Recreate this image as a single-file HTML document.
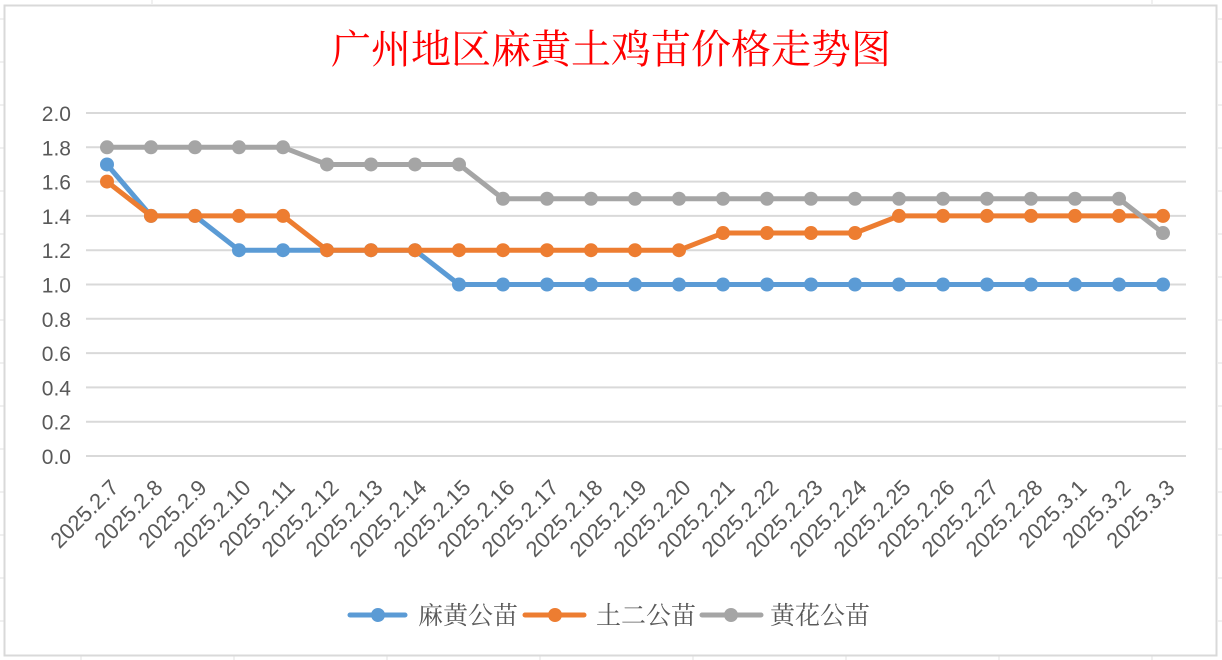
<!DOCTYPE html>
<html><head><meta charset="utf-8"><style>
html,body{margin:0;padding:0;background:#fff;}
svg{display:block;}
</style></head><body>
<svg width="1222" height="660" xmlns="http://www.w3.org/2000/svg">
<rect width="1222" height="660" fill="#fff"/>
<g stroke="#e2e2e2" stroke-width="1">
<line x1="0" y1="19" x2="4" y2="19"/><line x1="0" y1="62" x2="4" y2="62"/><line x1="0" y1="105" x2="4" y2="105"/><line x1="0" y1="148" x2="4" y2="148"/><line x1="0" y1="191" x2="4" y2="191"/><line x1="0" y1="234" x2="4" y2="234"/><line x1="0" y1="277" x2="4" y2="277"/><line x1="0" y1="320" x2="4" y2="320"/><line x1="0" y1="363" x2="4" y2="363"/><line x1="0" y1="406" x2="4" y2="406"/><line x1="0" y1="449" x2="4" y2="449"/><line x1="0" y1="492" x2="4" y2="492"/><line x1="0" y1="535" x2="4" y2="535"/><line x1="0" y1="578" x2="4" y2="578"/><line x1="0" y1="621" x2="4" y2="621"/>
<line x1="1218" y1="19" x2="1222" y2="19"/><line x1="1218" y1="62" x2="1222" y2="62"/><line x1="1218" y1="105" x2="1222" y2="105"/><line x1="1218" y1="148" x2="1222" y2="148"/><line x1="1218" y1="191" x2="1222" y2="191"/><line x1="1218" y1="234" x2="1222" y2="234"/><line x1="1218" y1="277" x2="1222" y2="277"/><line x1="1218" y1="320" x2="1222" y2="320"/><line x1="1218" y1="363" x2="1222" y2="363"/><line x1="1218" y1="406" x2="1222" y2="406"/><line x1="1218" y1="449" x2="1222" y2="449"/><line x1="1218" y1="492" x2="1222" y2="492"/><line x1="1218" y1="535" x2="1222" y2="535"/><line x1="1218" y1="578" x2="1222" y2="578"/><line x1="1218" y1="621" x2="1222" y2="621"/>
<line x1="81" y1="656" x2="81" y2="660"/><line x1="234" y1="656" x2="234" y2="660"/><line x1="387" y1="656" x2="387" y2="660"/><line x1="540" y1="656" x2="540" y2="660"/><line x1="693" y1="656" x2="693" y2="660"/><line x1="846" y1="656" x2="846" y2="660"/><line x1="999" y1="656" x2="999" y2="660"/><line x1="1152" y1="656" x2="1152" y2="660"/>
<line x1="152" y1="0" x2="152" y2="4"/><line x1="1152" y1="0" x2="1152" y2="4"/>
</g>
<rect x="4.5" y="5.5" width="1212" height="650" fill="#fff" stroke="#d9d9d9" stroke-width="2"/>
<text x="611" y="63" text-anchor="middle" font-family="Noto Serif CJK SC, serif" font-size="40" fill="#ff0000">广州地区麻黄土鸡苗价格走势图</text>
<g stroke="#d9d9d9" stroke-width="2">
<line x1="86" y1="113" x2="1186" y2="113"/><line x1="86" y1="147.3" x2="1186" y2="147.3"/><line x1="86" y1="181.6" x2="1186" y2="181.6"/><line x1="86" y1="215.9" x2="1186" y2="215.9"/><line x1="86" y1="250.2" x2="1186" y2="250.2"/><line x1="86" y1="284.5" x2="1186" y2="284.5"/><line x1="86" y1="318.8" x2="1186" y2="318.8"/><line x1="86" y1="353.1" x2="1186" y2="353.1"/><line x1="86" y1="387.4" x2="1186" y2="387.4"/><line x1="86" y1="421.7" x2="1186" y2="421.7"/><line x1="86" y1="456" x2="1186" y2="456"/>
</g>
<g font-family="Liberation Sans, sans-serif" font-size="21" fill="#595959" text-anchor="end">
<text x="71" y="121">2.0</text><text x="71" y="155.3">1.8</text><text x="71" y="189.6">1.6</text><text x="71" y="223.9">1.4</text><text x="71" y="258.2">1.2</text><text x="71" y="292.5">1.0</text><text x="71" y="326.8">0.8</text><text x="71" y="361.1">0.6</text><text x="71" y="395.4">0.4</text><text x="71" y="429.7">0.2</text><text x="71" y="464">0.0</text>
</g>
<g id="xl" font-family="Liberation Sans, sans-serif" font-size="22" fill="#595959" text-anchor="end"></g>
<g id="series"></g>
<g font-family="Noto Serif CJK SC, serif" font-size="25" fill="#595959">
<line x1="350" y1="615" x2="405" y2="615" stroke="#5b9bd5" stroke-width="5" stroke-linecap="round"/><circle cx="378" cy="615" r="7" fill="#5b9bd5"/>
<text x="418" y="624">麻黄公苗</text>
<line x1="525" y1="615" x2="584" y2="615" stroke="#ed7d31" stroke-width="5" stroke-linecap="round"/><circle cx="555" cy="615" r="7" fill="#ed7d31"/>
<text x="596" y="624">土二公苗</text>
<line x1="702" y1="615" x2="761" y2="615" stroke="#a5a5a5" stroke-width="5" stroke-linecap="round"/><circle cx="731" cy="615" r="7" fill="#a5a5a5"/>
<text x="770" y="624">黄花公苗</text>
</g>
<script>
var labels=["2025.2.7","2025.2.8","2025.2.9","2025.2.10","2025.2.11","2025.2.12","2025.2.13","2025.2.14","2025.2.15","2025.2.16","2025.2.17","2025.2.18","2025.2.19","2025.2.20","2025.2.21","2025.2.22","2025.2.23","2025.2.24","2025.2.25","2025.2.26","2025.2.27","2025.2.28","2025.3.1","2025.3.2","2025.3.3"];
var ns="http://www.w3.org/2000/svg";
function X(i){return 107+44*i;}
function Y(v){return 456-v*171.5;}
var xl=document.getElementById("xl");
labels.forEach(function(l,i){var t=document.createElementNS(ns,"text");var x=X(i)+13,y=489;t.setAttribute("x",x);t.setAttribute("y",y);t.setAttribute("transform","rotate(-45 "+x+" "+y+")");t.textContent=l;xl.appendChild(t);});
var s=[
["#5b9bd5",[1.7,1.4,1.4,1.2,1.2,1.2,1.2,1.2,1.0,1.0,1.0,1.0,1.0,1.0,1.0,1.0,1.0,1.0,1.0,1.0,1.0,1.0,1.0,1.0,1.0]],
["#ed7d31",[1.6,1.4,1.4,1.4,1.4,1.2,1.2,1.2,1.2,1.2,1.2,1.2,1.2,1.2,1.3,1.3,1.3,1.3,1.4,1.4,1.4,1.4,1.4,1.4,1.4]],
["#a5a5a5",[1.8,1.8,1.8,1.8,1.8,1.7,1.7,1.7,1.7,1.5,1.5,1.5,1.5,1.5,1.5,1.5,1.5,1.5,1.5,1.5,1.5,1.5,1.5,1.5,1.3]]
];
var g=document.getElementById("series");
s.forEach(function(sr){var c=sr[0],d=sr[1];var p=document.createElementNS(ns,"polyline");p.setAttribute("points",d.map(function(v,i){return X(i)+","+Y(v);}).join(" "));p.setAttribute("fill","none");p.setAttribute("stroke",c);p.setAttribute("stroke-width","5");p.setAttribute("stroke-linejoin","round");g.appendChild(p);
d.forEach(function(v,i){var ci=document.createElementNS(ns,"circle");ci.setAttribute("cx",X(i));ci.setAttribute("cy",Y(v));ci.setAttribute("r","7");ci.setAttribute("fill",c);g.appendChild(ci);});});
</script>
</svg>
</body></html>
